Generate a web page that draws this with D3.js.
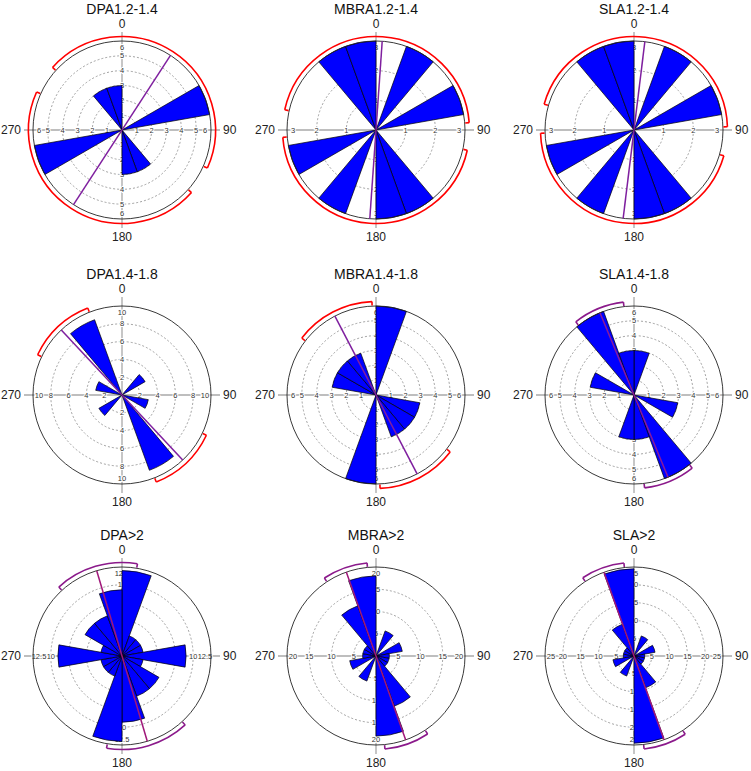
<!DOCTYPE html>
<html>
<head>
<meta charset="utf-8">
<script src="https://cdn.jsdelivr.net/npm/d3@7"></script>
<style>
  body { margin: 0; background: #fff; }
  svg { display: block; font-family: "Liberation Sans", Arial, sans-serif; }
</style>
</head>
<body>
<div id="chart"></div>
<script>
// panel titles, in reading order
const titles = ["DPA1.2-1.4", "MBRA1.2-1.4", "SLA1.2-1.4",
                "DPA1.4-1.8", "MBRA1.4-1.8", "SLA1.4-1.8",
                "DPA>2", "MBRA>2", "SLA>2"];

// start angle of each 20 degree bin
const binStarts = [0, 20, 40, 60, 80, 100, 120, 140, 160, 180, 200, 220, 240, 260, 280, 300, 320, 340];

// counts per bin (axial data, so every bin has its twin 180 deg away)
const dpa12  = [0, 0, 0, 6, 0, 0, 0, 3, 3, 0, 0, 0, 6, 0, 0, 0, 3, 3];
const mbra12 = [0, 3, 0, 3, 0, 0, 0, 3, 3, 0, 3, 0, 3, 0, 0, 0, 3, 3];
const sla12  = [0, 3, 0, 3, 0, 0, 0, 3, 3, 0, 3, 0, 3, 0, 0, 0, 3, 3];
const dpa14  = [0, 0, 3, 0, 0, 3, 0, 9, 0, 0, 0, 3, 0, 0, 3, 0, 9, 0];
const mbra14 = [6, 0, 0, 0, 0, 3, 3, 3, 0, 6, 0, 0, 0, 0, 3, 3, 3, 0];
const sla14  = [3, 0, 0, 0, 0, 3, 0, 6, 3, 3, 0, 0, 0, 0, 3, 0, 6, 3];
const dpa2   = [12, 3, 3, 3, 9, 3, 6, 6, 9.3, 12, 3, 3, 3, 9, 3, 6, 6, 9.3];
const mbra2  = [0, 6, 0, 6, 3, 3, 3, 12, 18, 0, 6, 0, 6, 3, 3, 3, 12, 18];
const sla2   = [0, 6, 0, 6, 3, 3, 3, 9.5, 24.5, 0, 6, 0, 6, 3, 3, 3, 9.5, 24.5];
const counts = [dpa12, mbra12, sla12, dpa14, mbra14, sla14, dpa2, mbra2, sla2];

// radial scale maximum and tick labels
const scaleMax = [6, 3, 3, 10, 6, 6, 12.5, 20, 25];
const tickValues = [
  [1, 2, 3, 4, 5, 6], [1, 2, 3], [1, 2, 3],
  [2, 4, 6, 8, 10], [1, 2, 3, 4, 5, 6], [1, 2, 3, 4, 5, 6],
  [2.5, 5, 7.5, 10, 12.5], [5, 10, 15, 20], [5, 10, 15, 20, 25]
];

// mean axis (deg) and half width of its confidence arc (deg)
const meanDir = [33, 4, 7, 317, 332.5, 337.5, 343.5, 340.5, 340.3];
const ciHalf  = [81, 81.5, 81, 21.5, 25, 16, 26, 14, 13.5];
const ciColor = ["#ff0000", "#ff0000", "#ff0000", "#ff0000", "#ff0000",
                 "#8b1a8b", "#8b1a8b", "#8b1a8b", "#8b1a8b"];
const lineColor = ["#7f1f9f", "#7f1f9f", "#7f1f9f", "#7f1f9f", "#7f1f9f",
                   "#8a1a9a", "#a0187a", "#a0187a", "#a0187a"];

const width = 751, height = 771;
const colX = [122, 376, 634];
const rowY = [130, 395, 656];
const R = 89;
const rad = d => d * Math.PI / 180;

const svg = d3.select("#chart").append("svg")
  .attr("width", width)
  .attr("height", height);

titles.forEach((title, i) => {
  const cx = colX[i % 3], cy = rowY[Math.floor(i / 3)];
  const g = svg.append("g").attr("transform", `translate(${cx},${cy})`);
  const r = d3.scaleLinear().domain([0, scaleMax[i]]).range([0, R]);
  const ticks = tickValues[i];

  // dashed rings
  g.selectAll("circle.ring")
    .data(ticks.filter(t => t < scaleMax[i]))
    .enter().append("circle")
    .attr("r", d => r(d))
    .attr("fill", "none")
    .attr("stroke", "#8a8a8a")
    .attr("stroke-width", 0.8)
    .attr("stroke-dasharray", "2,2");

  // axis cross
  [0, 90, 180, 270].forEach(a => {
    const p = d3.pointRadial(rad(a), R + 9);
    g.append("line")
      .attr("x1", 0).attr("y1", 0)
      .attr("x2", p[0]).attr("y2", p[1])
      .attr("stroke", "#a8a8a8")
      .attr("stroke-width", 1.3);
  });

  // tick labels on the four axes
  [0, 90, 180, 270].forEach(a => {
    ticks.forEach(t => {
      const p = d3.pointRadial(rad(a), Math.min(r(t), R - 6));
      g.append("text")
        .attr("x", p[0]).attr("y", p[1])
        .attr("dy", "0.35em")
        .attr("text-anchor", "middle")
        .attr("font-size", "7.5px")
        .attr("fill", "#333")
        .attr("stroke", "#fff")
        .attr("stroke-width", 2)
        .attr("paint-order", "stroke")
        .text(t);
    });
  });

  // rose wedges
  const arc = d3.arc()
    .innerRadius(0)
    .outerRadius(d => r(d.v))
    .startAngle(d => rad(d.a))
    .endAngle(d => rad(d.a + 20));
  g.selectAll("path.bin")
    .data(binStarts.map((a, k) => ({ a: a, v: counts[i][k] })).filter(d => d.v > 0))
    .enter().append("path")
    .attr("d", arc)
    .attr("fill", "#0000ff")
    .attr("stroke", "#000")
    .attr("stroke-width", 0.7);

  // outer ring
  g.append("circle")
    .attr("r", R)
    .attr("fill", "none")
    .attr("stroke", "#222")
    .attr("stroke-width", 0.9);

  // mean axis
  const p1 = d3.pointRadial(rad(meanDir[i]), R);
  const p2 = d3.pointRadial(rad(meanDir[i] + 180), R);
  g.append("line")
    .attr("x1", p1[0]).attr("y1", p1[1])
    .attr("x2", p2[0]).attr("y2", p2[1])
    .attr("stroke", lineColor[i])
    .attr("stroke-width", 1.5);

  // confidence arcs with end ticks, one at each end of the axis
  const rr = R + 4.5;
  [meanDir[i], meanDir[i] + 180].forEach(m => {
    const a0 = rad(m - ciHalf[i]), a1 = rad(m + ciHalf[i]);
    const path = d3.path();
    path.arc(0, 0, rr, a0 - Math.PI / 2, a1 - Math.PI / 2);
    g.append("path")
      .attr("d", path.toString())
      .attr("fill", "none")
      .attr("stroke", ciColor[i])
      .attr("stroke-width", 1.6);
    [a0, a1].forEach(a => {
      const q1 = d3.pointRadial(a, rr), q2 = d3.pointRadial(a, rr - 4);
      g.append("line")
        .attr("x1", q1[0]).attr("y1", q1[1])
        .attr("x2", q2[0]).attr("y2", q2[1])
        .attr("stroke", ciColor[i])
        .attr("stroke-width", 1.6);
    });
  });

  // compass labels
  const lab = (x, y, anchor, txt) => g.append("text")
    .attr("x", x).attr("y", y)
    .attr("text-anchor", anchor)
    .attr("font-size", "12px")
    .attr("fill", "#222")
    .text(txt);
  lab(0, -102, "middle", "0");
  lab(0, 111, "middle", "180");
  lab(101, 4, "start", "90");
  lab(-101, 4, "end", "270");

  // title
  g.append("text")
    .attr("x", 0).attr("y", -116)
    .attr("text-anchor", "middle")
    .attr("font-size", "14px")
    .attr("fill", "#111")
    .text(title);
});
</script>
</body>
</html>
